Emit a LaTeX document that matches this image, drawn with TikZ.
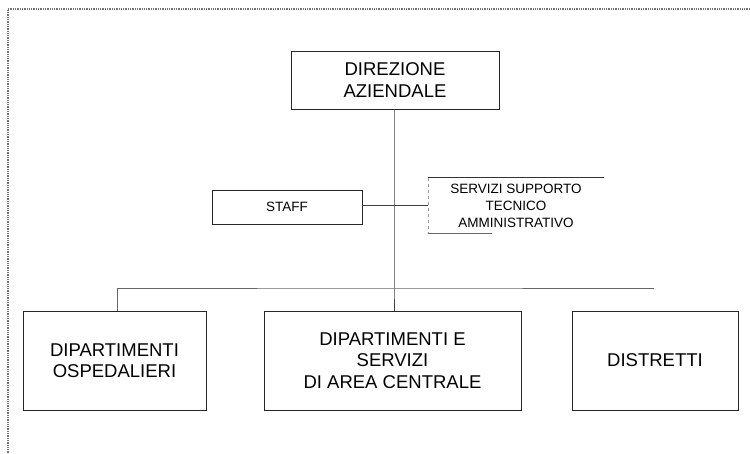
\documentclass[tikz,border=0pt]{standalone}
\usepackage{fontspec}
\setmainfont{Liberation Sans}
\begin{document}
\begin{tikzpicture}[x=1pt,y=-1pt,
  box/.style={draw=black!85,line width=0.9pt,rectangle,inner sep=0pt,align=center},
  bigtxt/.style={font=\fontsize{18.5}{21.5}\selectfont},
  smalltxt/.style={font=\fontsize{13.5}{17}\selectfont},
  conn/.style={draw=black!75,line width=0.9pt},
  frame/.style={draw=black!55,line width=1.3pt,densely dotted}]
\useasboundingbox (0,0) rectangle (750,454);
% outer frame (scanned page border)
\coordinate (ftl) at (8,9);
\coordinate (ftr) at (750,9);
\coordinate (fbl) at (8,454);
\draw[frame] (ftr) -- (ftl) -- (fbl);
% nodes
\node[box,bigtxt,minimum width=208,minimum height=58] (dir) at (395,80) {DIREZIONE\\AZIENDALE};
\node[box,smalltxt,minimum width=150,minimum height=34] (staff) at (287,207) {STAFF};
\node[smalltxt,align=center,inner sep=0pt,minimum width=175,minimum height=55] (serv) at (516,205.5) {SERVIZI SUPPORTO\\TECNICO\\AMMINISTRATIVO};
\node[box,bigtxt,minimum width=183,minimum height=99] (osp) at (114.5,360.5) {DIPARTIMENTI\\OSPEDALIERI};
\node[box,bigtxt,minimum width=257,minimum height=99] (cen) at (392.5,360.5) {DIPARTIMENTI E\\SERVIZI\\DI AREA CENTRALE};
\node[box,bigtxt,minimum width=166,minimum height=99] (dis) at (655,360.5) {DISTRETTI};
% partial outline of the support-services box
\draw[black!80,line width=0.9pt] (serv.north west) -- (serv.north east);
\draw[black!40,line width=0.7pt,dashed] (serv.north west) -- (serv.south west);
\draw[black!60,line width=0.9pt] (serv.south west) -- ([xshift=64pt]serv.south west);
% connectors
\coordinate (j) at (394,288);
\coordinate (busend) at (654,288);
\draw[conn] (dir.south -| j) -- (j) -- (cen.north -| j);
\draw[conn] (staff.east |- 0,205) -- (serv.west |- 0,205);
\draw[conn,draw=black!60] (busend) -- (j) -- (117,288) coordinate (bl) -- (osp.north -| bl);
\end{tikzpicture}
\end{document}
